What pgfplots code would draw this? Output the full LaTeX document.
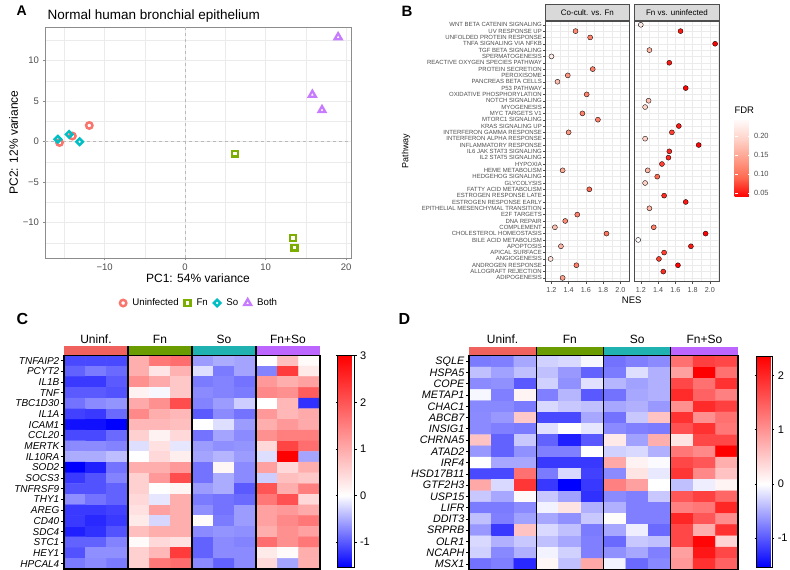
\documentclass[border=0pt]{standalone}
\usepackage{fontspec}
\setmainfont{Liberation Sans}
\usepackage{pgfplots}
\pgfplotsset{compat=1.18}
\definecolor{cU}{HTML}{F8766D}
\definecolor{cF}{HTML}{7CAE00}
\definecolor{cS}{HTML}{00BFC4}
\definecolor{cB}{HTML}{C77CFF}
\definecolor{ggrid}{HTML}{EBEBEB}
\definecolor{gtext}{HTML}{4D4D4D}
\definecolor{gframe}{HTML}{8C8C8C}
\definecolor{hU}{HTML}{F0625E}
\definecolor{hF}{HTML}{6A9C00}
\definecolor{hS}{HTML}{20B2B0}
\definecolor{hB}{HTML}{BD66FF}
\pgfplotsset{
  /pgf/number format/assume math mode=true,
  colormap={bwrC}{rgb255(0cm)=(0,0,255); rgb255(1.545cm)=(255,255,255); rgb255(4.545cm)=(255,0,0)},
  colormap={bwrD}{rgb255(0cm)=(0,0,255); rgb255(1.54cm)=(255,255,255); rgb255(3.89cm)=(255,0,0)},
  colormap={fdr}{rgb255(0cm)=(255,0,0); rgb255(1cm)=(255,105,80); rgb255(2cm)=(255,160,140); rgb255(3cm)=(255,210,200); rgb255(4cm)=(255,250,250)},
  facet/.style={
    scale only axis, anchor=south west, height=260.7pt,
    xmin=1.125, xmax=2.105, ymin=0.4, ymax=41.6, y dir=reverse,
    xtick={1.2,1.4,1.6,1.8,2.0}, xticklabels={1.2,1.4,1.6,1.8,2.0},
    minor xtick={1.3,1.5,1.7,1.9,2.1},
    ytick={1,...,41},
    grid=both, major grid style={ggrid, line width=0.5pt}, minor grid style={ggrid, line width=0.3pt},
    axis line style={draw=gtext, line width=0.5pt},
    tick align=outside, major tick length=2pt, minor tick length=0pt,
    major tick style={gtext, line width=0.4pt},
    xtick pos=left, ytick pos=left,
    xticklabel style={font=\fontsize{7.2}{8}\selectfont, text=gtext},
    yticklabel style={font=\fontsize{6}{6.5}\selectfont, text=gtext, inner sep=1pt},
    colormap name=fdr, point meta min=0.039, point meta max=0.242,
  },
  dots/.style={scatter, only marks, mark=*, mark size=2.5pt, point meta=explicit,
    scatter/use mapped color={draw=black, fill=mapped color, line width=0.35pt}},
  heat/.style={
    anchor=south west, scale only axis, y dir=reverse,
    xmin=-0.5, xmax=11.5, xtick=\empty,
    ytick pos=left, tick align=outside, major tick length=3pt,
    major tick style={black, line width=0.8pt},
    axis on top, axis line style={black, line width=1.4pt},
    clip=false,
  },
}
\begin{document}
\begin{tikzpicture}
\path[use as bounding box] (0,0) rectangle (790pt,570pt);
% ---------------- Panel A ----------------
\node[anchor=base west, font=\fontsize{14}{14}\selectfont\bfseries] at (13pt,554pt) {A};
\node[anchor=base west, font=\fontsize{13.5}{14}\selectfont] at (44pt,550pt) {Normal human bronchial epithelium};
\begin{axis}[
  at={(45pt,312pt)}, anchor=south west, scale only axis,
  width=306pt, height=231pt,
  xmin=-17.4, xmax=20.6, ymin=-14.36, ymax=14.16,
  xtick={-10,0,10,20}, xticklabels={−10,0,10,20},
  ytick={-10,-5,0,5,10}, yticklabels={−10,−5,0,5,10},
  minor xtick={-15,-5,5,15}, minor ytick={-12.5,-7.5,-2.5,2.5,7.5,12.5},
  grid=both, major grid style={ggrid, line width=0.6pt}, minor grid style={ggrid, line width=0.35pt},
  axis line style={draw=gframe, line width=0.7pt},
  tick align=outside, major tick length=2.5pt, minor tick length=0pt,
  major tick style={gframe, line width=0.6pt},
  xtick pos=left, ytick pos=left,
  ticklabel style={font=\fontsize{9.5}{10}\selectfont, text=gtext},
  xlabel={PC1: 54\% variance}, ylabel={PC2: 12\% variance},
  label style={font=\fontsize{12}{13}\selectfont},
  xlabel style={yshift=4pt}, ylabel style={yshift=-2pt},
  legend columns=4,
  legend style={at={(0.505,-0.195)}, anchor=center, draw=none, fill=none,
    font=\fontsize{9.7}{10}\selectfont,
    /tikz/every odd column/.append style={column sep=4pt},
    /tikz/every even column/.append style={column sep=4pt}},
  legend image code/.code={\draw[mark repeat=2,mark phase=2,#1] plot coordinates {(0pt,0pt) (5pt,0pt) (10pt,0pt)};},
]
\addplot[forget plot, gray!55, dashed, line width=0.6pt] coordinates {(0,-14.36) (0,14.16)};
\addplot[forget plot, gray!55, dashed, line width=0.6pt] coordinates {(-17.4,0) (20.6,0)};
\addplot[only marks, mark=o, mark size=3.2pt, color=cU, mark options={line width=2.5pt}]
  coordinates {(-15.6,-0.1) (-14.0,0.7) (-11.9,2.0)};
\addlegendentry{Uninfected}
\addplot[only marks, mark=square, mark size=2.9pt, color=cF, mark options={line width=2.5pt}]
  coordinates {(6.2,-1.5) (13.4,-11.9) (13.6,-13.1)};
\addlegendentry{Fn}
\addplot[only marks, mark=square, mark size=2.3pt, color=cS, mark options={line width=2.4pt, rotate=45}]
  coordinates {(-15.8,0.3) (-14.4,0.9) (-13.1,0.0)};
\addlegendentry{So}
\addplot[only marks, mark=triangle, mark size=4pt, color=cB, mark options={line width=2.3pt}]
  coordinates {(19.0,12.9) (15.8,5.8) (17.0,3.9)};
\addlegendentry{Both}
\end{axis}
% ---------------- Panel B ----------------
\node[anchor=base west, font=\fontsize{15}{15}\selectfont\bfseries] at (398pt,553pt) {B};
\node[anchor=south west, draw=gtext, fill={rgb,255:red,217;green,217;blue,217}, line width=0.5pt,
  minimum width=84.3pt, minimum height=16pt, inner sep=0pt, font=\fontsize{8}{8}\selectfont]
  at (545pt,549pt) {Co-cult. vs. Fn};
\node[anchor=south west, draw=gtext, fill={rgb,255:red,217;green,217;blue,217}, line width=0.5pt,
  minimum width=84.7pt, minimum height=16pt, inner sep=0pt, font=\fontsize{8}{8}\selectfont]
  at (634.3pt,549pt) {Fn vs. uninfected};
\node[rotate=90, font=\fontsize{9}{9}\selectfont] at (406pt,419pt) {Pathway};
\node[font=\fontsize{9.5}{10}\selectfont] at (631.7pt,270pt) {NES};
\node[anchor=west, font=\fontsize{9.5}{10}\selectfont] at (731pt,460pt) {FDR};
\begin{axis}[facet, at={(545pt,288.3pt)}, width=84.3pt,
  yticklabels={WNT BETA CATENIN SIGNALING,UV RESPONSE UP,UNFOLDED PROTEIN RESPONSE,TNFA SIGNALING VIA NFKB,TGF BETA SIGNALING,SPERMATOGENESIS,REACTIVE OXYGEN SPECIES PATHWAY,PROTEIN SECRETION,PEROXISOME,PANCREAS BETA CELLS,P53 PATHWAY,OXIDATIVE PHOSPHORYLATION,NOTCH SIGNALING,MYOGENESIS,MYC TARGETS V1,MTORC1 SIGNALING,KRAS SIGNALING UP,INTERFERON GAMMA RESPONSE,INTERFERON ALPHA RESPONSE,INFLAMMATORY RESPONSE,IL6 JAK STAT3 SIGNALING,IL2 STAT5 SIGNALING,HYPOXIA,HEME METABOLISM,HEDGEHOG SIGNALING,GLYCOLYSIS,FATTY ACID METABOLISM,ESTROGEN RESPONSE LATE,ESTROGEN RESPONSE EARLY,EPITHELIAL MESENCHYMAL TRANSITION,E2F TARGETS,DNA REPAIR,COMPLEMENT,CHOLESTEROL HOMEOSTASIS,BILE ACID METABOLISM,APOPTOSIS,APICAL SURFACE,ANGIOGENESIS,ANDROGEN RESPONSE,ALLOGRAFT REJECTION,ADIPOGENESIS}]
\addplot[dots] coordinates {
(1.48,2)[0.12] (1.65,3)[0.11] (1.20,6)[0.22] (1.68,8)[0.11] (1.39,9)[0.13]
(1.27,10)[0.17] (1.61,12)[0.11] (1.56,15)[0.11] (1.74,16)[0.11] (1.40,18)[0.13]
(1.33,24)[0.15] (1.64,27)[0.09] (1.50,31)[0.11] (1.36,32)[0.12] (1.24,33)[0.17]
(1.84,34)[0.10] (1.31,36)[0.16] (1.19,38)[0.21] (1.49,39)[0.11] (1.33,41)[0.14]};
\end{axis}
\begin{axis}[facet, at={(634.3pt,288.3pt)}, width=84.7pt,
  yticklabels={}, ytick style={draw=none},
  colorbar, colorbar style={
    at={(parent axis.north east)}, anchor=north west, xshift=7pt, yshift=-99pt,
    scale only axis, width=16pt, height=77pt, y dir=normal,
    ytick={0.05,0.10,0.15,0.20}, yticklabels={0.05,0.10,0.15,0.20},
    yticklabel style={font=\fontsize{7.5}{8}\selectfont, text=gtext},
    axis line style={draw=none}, tick align=inside, major tick length=3pt,
    major tick style={white, line width=0.5pt}}]
\addplot[dots] coordinates {
(1.20,1)[0.22] (1.66,2)[0.05] (2.06,4)[0.03] (1.30,5)[0.16] (1.53,7)[0.05]
(1.72,11)[0.04] (1.29,13)[0.17] (1.25,14)[0.19] (1.64,17)[0.05] (1.56,18)[0.07]
(1.25,19)[0.19] (1.87,20)[0.04] (1.53,21)[0.06] (1.52,22)[0.06] (1.445,23)[0.07]
(1.28,24)[0.16] (1.39,25)[0.09] (1.25,26)[0.19] (1.47,28)[0.06] (1.72,29)[0.05]
(1.30,30)[0.16] (1.35,33)[0.11] (1.95,34)[0.04] (1.17,35)[0.242] (1.78,36)[0.05]
(1.47,37)[0.07] (1.41,38)[0.07] (1.63,39)[0.04] (1.46,40)[0.06]};
\end{axis}
% ---------------- Panel C ----------------
\node[anchor=base west, font=\fontsize{16}{16}\selectfont\bfseries] at (13pt,245pt) {C};
\begin{axis}[heat, at={(64pt,1pt)}, width=256pt, height=213.7pt,
  ymin=0.5, ymax=20.5, ytick={1,...,20},
  yticklabels={TNFAIP2,PCYT2,IL1B,TNF,TBC1D30,IL1A,ICAM1,CCL20,MERTK,IL10RA,SOD2,SOCS3,TNFRSF9,THY1,AREG,CD40,SDC4,STC1,HEY1,HPCAL4},
  yticklabel style={font=\fontsize{10}{10}\selectfont\itshape, inner sep=1.5pt},
  colormap name=bwrC, point meta min=-1.545, point meta max=3,
  colorbar, colorbar style={
    at={(parent axis.north east)}, anchor=north west, xshift=9pt, yshift=-0.4pt,
    scale only axis, width=17pt, height=211.6pt, y dir=normal,
    ytick={-1,0,1,2,3}, yticklabels={-1,0,1,2,3},
    yticklabel style={font=\fontsize{11}{12}\selectfont},
    axis line style={black, line width=1pt},
    tick align=outside, major tick length=2pt, major tick style={black, line width=0.6pt}}]
\addplot[matrix plot*, mesh/cols=12, point meta=explicit] coordinates {
(0,1)[-1.1] (1,1)[-1.1] (2,1)[-1.1] (3,1)[0.95] (4,1)[1.6] (5,1)[1.7] (6,1)[-0.6] (7,1)[-0.5] (8,1)[-0.55] (9,1)[0.0] (10,1)[0.75] (11,1)[0.05]

(0,2)[-0.95] (1,2)[-0.8] (2,2)[-0.9] (3,2)[0.95] (4,2)[0.3] (5,2)[0.9] (6,2)[-0.2] (7,2)[-0.8] (8,2)[-0.55] (9,2)[-0.75] (10,2)[2.3] (11,2)[0.25]

(0,3)[-1.2] (1,3)[-1.2] (2,3)[-1.0] (3,3)[1.3] (4,3)[1.0] (5,3)[0.65] (6,3)[-0.8] (7,3)[-0.75] (8,3)[-0.85] (9,3)[1.2] (10,3)[0.95] (11,3)[1.1]

(0,4)[-1.0] (1,4)[-1.0] (2,4)[-1.05] (3,4)[0.15] (4,4)[-0.05] (5,4)[0.65] (6,4)[-0.7] (7,4)[-0.75] (8,4)[-0.8] (9,4)[1.4] (10,4)[1.3] (11,4)[1.9]

(0,5)[-0.85] (1,5)[-0.7] (2,5)[-0.65] (3,5)[1.0] (4,5)[1.3] (5,5)[2.1] (6,5)[-0.75] (7,5)[-0.6] (8,5)[-0.3] (9,5)[0.0] (10,5)[0.85] (11,5)[-1.25]

(0,6)[-1.15] (1,6)[-1.2] (2,6)[-0.9] (3,6)[1.4] (4,6)[0.95] (5,6)[0.85] (6,6)[-1.0] (7,6)[-0.7] (8,6)[-0.85] (9,6)[1.2] (10,6)[0.85] (11,6)[1.0]

(0,7)[-1.45] (1,7)[-1.45] (2,7)[-1.55] (3,7)[0.85] (4,7)[0.85] (5,7)[0.75] (6,7)[0.0] (7,7)[-0.2] (8,7)[-0.6] (9,7)[0.95] (10,7)[1.2] (11,7)[1.0]

(0,8)[-1.1] (1,8)[-1.1] (2,8)[-0.9] (3,8)[0.55] (4,8)[0.15] (5,8)[0.45] (6,8)[-0.85] (7,8)[-0.55] (8,8)[-0.7] (9,8)[1.3] (10,8)[1.5] (11,8)[1.5]

(0,9)[-0.7] (1,9)[-0.7] (2,9)[-0.75] (3,9)[-0.2] (4,9)[0.35] (5,9)[-0.15] (6,9)[-0.6] (7,9)[-0.68] (8,9)[-0.65] (9,9)[0.45] (10,9)[2.2] (11,9)[1.7]

(0,10)[-0.5] (1,10)[-0.5] (2,10)[-0.4] (3,10)[0.0] (4,10)[0.45] (5,10)[0.2] (6,10)[-0.55] (7,10)[-0.45] (8,10)[-0.6] (9,10)[-0.2] (10,10)[3.0] (11,10)[-0.55]

(0,11)[-1.55] (1,11)[-1.35] (2,11)[-0.85] (3,11)[0.95] (4,11)[0.95] (5,11)[1.2] (6,11)[-0.85] (7,11)[0.1] (8,11)[-0.7] (9,11)[1.1] (10,11)[0.45] (11,11)[0.95]

(0,12)[-1.2] (1,12)[-1.05] (2,12)[-0.75] (3,12)[0.55] (4,12)[1.2] (5,12)[2.1] (6,12)[-0.85] (7,12)[-0.5] (8,12)[-0.7] (9,12)[-0.3] (10,12)[0.75] (11,12)[0.65]

(0,13)[-1.05] (1,13)[-1.05] (2,13)[-0.95] (3,13)[0.55] (4,13)[0.0] (5,13)[0.12] (6,13)[-0.6] (7,13)[-0.5] (8,13)[-1.0] (9,13)[2.0] (10,13)[0.95] (11,13)[1.5]

(0,14)[-0.68] (1,14)[-0.85] (2,14)[-0.95] (3,14)[0.45] (4,14)[-0.15] (5,14)[0.95] (6,14)[-0.8] (7,14)[-0.85] (8,14)[-0.9] (9,14)[1.6] (10,14)[2.05] (11,14)[0.45]

(0,15)[-1.2] (1,15)[-1.2] (2,15)[-1.15] (3,15)[0.35] (4,15)[1.1] (5,15)[0.95] (6,15)[-0.68] (7,15)[-0.85] (8,15)[-0.6] (9,15)[1.1] (10,15)[1.2] (11,15)[1.0]

(0,16)[-1.2] (1,16)[-1.3] (2,16)[-1.2] (3,16)[0.25] (4,16)[-0.25] (5,16)[0.95] (6,16)[0.05] (7,16)[-0.8] (8,16)[-0.6] (9,16)[1.1] (10,16)[1.4] (11,16)[1.6]

(0,17)[-1.35] (1,17)[-1.25] (2,17)[-1.05] (3,17)[0.75] (4,17)[0.95] (5,17)[0.95] (6,17)[-0.7] (7,17)[-0.65] (8,17)[-0.68] (9,17)[0.95] (10,17)[1.3] (11,17)[1.1]

(0,18)[-0.95] (1,18)[-0.95] (2,18)[-0.75] (3,18)[0.05] (4,18)[0.45] (5,18)[0.35] (6,18)[-0.95] (7,18)[-0.7] (8,18)[-0.75] (9,18)[1.7] (10,18)[1.3] (11,18)[1.6]

(0,19)[-1.05] (1,19)[-0.68] (2,19)[-0.68] (3,19)[0.55] (4,19)[0.85] (5,19)[2.3] (6,19)[-0.95] (7,19)[-0.7] (8,19)[-0.7] (9,19)[0.25] (10,19)[0.05] (11,19)[0.95]

(0,20)[-0.8] (1,20)[-0.7] (2,20)[-0.8] (3,20)[0.55] (4,20)[1.6] (5,20)[1.7] (6,20)[-0.7] (7,20)[-0.95] (8,20)[-0.7] (9,20)[0.45] (10,20)[-0.55] (11,20)[0.95]
};
\fill[hU] (axis cs:-0.5,-0.37) rectangle (axis cs:2.5,0.5);
\fill[hF] (axis cs:2.5,-0.37) rectangle (axis cs:5.5,0.5);
\fill[hS] (axis cs:5.5,-0.37) rectangle (axis cs:8.5,0.5);
\fill[hB] (axis cs:8.5,-0.37) rectangle (axis cs:11.5,0.5);
\draw[black, line width=1.2pt] (axis cs:2.5,-0.37) -- (axis cs:2.5,20.5);
\draw[black, line width=1.2pt] (axis cs:5.5,-0.37) -- (axis cs:5.5,20.5);
\draw[black, line width=1.2pt] (axis cs:8.5,-0.37) -- (axis cs:8.5,20.5);
\node[anchor=base, font=\fontsize{12}{12}\selectfont] at (axis cs:1,-0.62) {Uninf.};
\node[anchor=base, font=\fontsize{12}{12}\selectfont] at (axis cs:4,-0.62) {Fn};
\node[anchor=base, font=\fontsize{12}{12}\selectfont] at (axis cs:7,-0.62) {So};
\node[anchor=base, font=\fontsize{12}{12}\selectfont] at (axis cs:10,-0.62) {Fn+So};
\end{axis}
% ---------------- Panel D ----------------
\node[anchor=base west, font=\fontsize{16}{16}\selectfont\bfseries] at (395pt,245pt) {D};
\begin{axis}[heat, at={(469pt,0.4pt)}, width=269pt, height=213.9pt,
  ymin=0.5, ymax=19.5, ytick={1,...,19},
  yticklabels={SQLE,HSPA5,COPE,METAP1,CHAC1,ABCB7,INSIG1,CHRNA5,ATAD2,IRF4,HSD17B11,GTF2H3,USP15,LIFR,DDIT3,SRPRB,OLR1,NCAPH,MSX1},
  yticklabel style={font=\fontsize{10.8}{11}\selectfont\itshape, inner sep=1.5pt},
  colormap name=bwrD, point meta min=-1.54, point meta max=2.35,
  colorbar, colorbar style={
    at={(parent axis.north east)}, anchor=north west, xshift=10pt, yshift=-1pt,
    scale only axis, width=15.7pt, height=210.6pt, y dir=normal,
    ytick={-1,0,1,2}, yticklabels={-1,0,1,2},
    yticklabel style={font=\fontsize{11}{12}\selectfont},
    axis line style={black, line width=1pt},
    tick align=outside, major tick length=2pt, major tick style={black, line width=0.6pt}}]
\addplot[matrix plot*, mesh/cols=12, point meta=explicit] coordinates {
(0,1)[-0.8] (1,1)[-0.77] (2,1)[-0.53] (3,1)[-0.28] (4,1)[-0.23] (5,1)[-0.05] (6,1)[-0.85] (7,1)[-0.77] (8,1)[-0.7] (9,1)[1.32] (10,1)[1.76] (11,1)[1.7]

(0,2)[-0.38] (1,2)[-0.57] (2,2)[-0.38] (3,2)[-0.38] (4,2)[-0.62] (5,2)[-0.95] (6,2)[-0.8] (7,2)[-0.2] (8,2)[-0.48] (9,2)[0.88] (10,2)[2.35] (11,2)[1.32]

(0,3)[-0.7] (1,3)[-0.67] (2,3)[-1.0] (3,3)[-0.28] (4,3)[-0.67] (5,3)[-0.18] (6,3)[-0.44] (7,3)[-0.57] (8,3)[-0.48] (9,3)[1.7] (10,3)[1.32] (11,3)[1.9]

(0,4)[-0.05] (1,4)[-0.77] (2,4)[0.1] (3,4)[-0.77] (4,4)[-0.44] (5,4)[-1.0] (6,4)[-0.85] (7,4)[-0.53] (8,4)[-0.48] (9,4)[1.95] (10,4)[1.45] (11,4)[1.17]

(0,5)[-0.72] (1,5)[-0.72] (2,5)[-0.8] (3,5)[-0.23] (4,5)[-0.33] (5,5)[-0.38] (6,5)[-0.53] (7,5)[-0.48] (8,5)[-0.62] (9,5)[1.02] (10,5)[1.95] (11,5)[1.76]

(0,6)[-0.7] (1,6)[-0.62] (2,6)[0.5] (3,6)[-1.1] (4,6)[-1.1] (5,6)[-0.53] (6,6)[-0.85] (7,6)[-0.33] (8,6)[0.55] (9,6)[1.9] (10,6)[1.02] (11,6)[1.32]

(0,7)[-0.7] (1,7)[-0.77] (2,7)[-0.8] (3,7)[-0.18] (4,7)[0.0] (5,7)[-0.15] (6,7)[-0.7] (7,7)[-0.77] (8,7)[-0.8] (9,7)[1.6] (10,7)[1.9] (11,7)[1.25]

(0,8)[0.55] (1,8)[-0.95] (2,8)[-0.33] (3,8)[-0.95] (4,8)[-1.35] (5,8)[-1.0] (6,8)[0.2] (7,8)[-0.57] (8,8)[0.75] (9,8)[0.25] (10,8)[1.7] (11,8)[1.7]

(0,9)[-0.62] (1,9)[-0.95] (2,9)[-0.67] (3,9)[-0.77] (4,9)[-0.77] (5,9)[0.0] (6,9)[-0.28] (7,9)[-0.23] (8,9)[-0.48] (9,9)[1.25] (10,9)[1.1] (11,9)[2.35]

(0,10)[0.0] (1,10)[-0.53] (2,10)[-0.53] (3,10)[-1.2] (4,10)[-1.2] (5,10)[-1.2] (6,10)[0.8] (7,10)[0.12] (8,10)[-0.03] (9,10)[1.7] (10,10)[1.55] (11,10)[0.75]

(0,11)[-1.1] (1,11)[-1.1] (2,11)[1.32] (3,11)[-0.8] (4,11)[-0.23] (5,11)[-1.15] (6,11)[-0.7] (7,11)[0.25] (8,11)[-0.14] (9,11)[1.85] (10,11)[1.1] (11,11)[0.55]

(0,12)[0.8] (1,12)[-0.23] (2,12)[1.85] (3,12)[-1.2] (4,12)[-1.54] (5,12)[-1.2] (6,12)[1.17] (7,12)[0.88] (8,12)[0.0] (9,12)[-0.38] (10,12)[-0.1] (11,12)[0.1]

(0,13)[-0.33] (1,13)[-0.53] (2,13)[0.05] (3,13)[-0.33] (4,13)[-0.57] (5,13)[-1.25] (6,13)[-0.7] (7,13)[-0.77] (8,13)[-0.33] (9,13)[1.55] (10,13)[1.76] (11,13)[1.4]

(0,14)[-0.8] (1,14)[-0.8] (2,14)[-0.7] (3,14)[-0.07] (4,14)[0.25] (5,14)[-0.48] (6,14)[-0.48] (7,14)[-0.77] (8,14)[-0.77] (9,14)[1.17] (10,14)[1.25] (11,14)[2.0]

(0,15)[-0.38] (1,15)[-0.77] (2,15)[-0.57] (3,15)[-0.53] (4,15)[-0.67] (5,15)[-0.33] (6,15)[0.03] (7,15)[-0.77] (8,15)[-0.77] (9,15)[2.0] (10,15)[1.55] (11,15)[1.05]

(0,16)[-0.62] (1,16)[-1.2] (2,16)[0.55] (3,16)[-0.23] (4,16)[-0.38] (5,16)[-0.8] (6,16)[-0.53] (7,16)[-0.1] (8,16)[-0.9] (9,16)[1.7] (10,16)[0.75] (11,16)[1.9]

(0,17)[-0.23] (1,17)[-0.48] (2,17)[-0.33] (3,17)[-0.38] (4,17)[-0.53] (5,17)[-0.77] (6,17)[-0.9] (7,17)[-0.33] (8,17)[-0.38] (9,17)[1.7] (10,17)[2.3] (11,17)[0.4]

(0,18)[-0.28] (1,18)[-0.72] (2,18)[-0.48] (3,18)[-0.07] (4,18)[-0.28] (5,18)[-0.77] (6,18)[-0.67] (7,18)[-0.53] (8,18)[-0.77] (9,18)[0.88] (10,18)[2.15] (11,18)[1.7]

(0,19)[-0.85] (1,19)[-0.77] (2,19)[-1.3] (3,19)[0.08] (4,19)[-0.38] (5,19)[0.8] (6,19)[-0.07] (7,19)[-0.9] (8,19)[-0.72] (9,19)[0.95] (10,19)[1.9] (11,19)[1.45]
};
\fill[hU] (axis cs:-0.5,-0.3) rectangle (axis cs:2.5,0.5);
\fill[hF] (axis cs:2.5,-0.3) rectangle (axis cs:5.5,0.5);
\fill[hS] (axis cs:5.5,-0.3) rectangle (axis cs:8.5,0.5);
\fill[hB] (axis cs:8.5,-0.3) rectangle (axis cs:11.5,0.5);
\draw[black, line width=1.2pt] (axis cs:2.5,-0.3) -- (axis cs:2.5,19.5);
\draw[black, line width=1.2pt] (axis cs:5.5,-0.3) -- (axis cs:5.5,19.5);
\draw[black, line width=1.2pt] (axis cs:8.5,-0.3) -- (axis cs:8.5,19.5);
\node[anchor=base, font=\fontsize{12}{12}\selectfont] at (axis cs:1,-0.6) {Uninf.};
\node[anchor=base, font=\fontsize{12}{12}\selectfont] at (axis cs:4,-0.6) {Fn};
\node[anchor=base, font=\fontsize{12}{12}\selectfont] at (axis cs:7,-0.6) {So};
\node[anchor=base, font=\fontsize{12}{12}\selectfont] at (axis cs:10,-0.6) {Fn+So};
\end{axis}
\end{tikzpicture}
\end{document}
